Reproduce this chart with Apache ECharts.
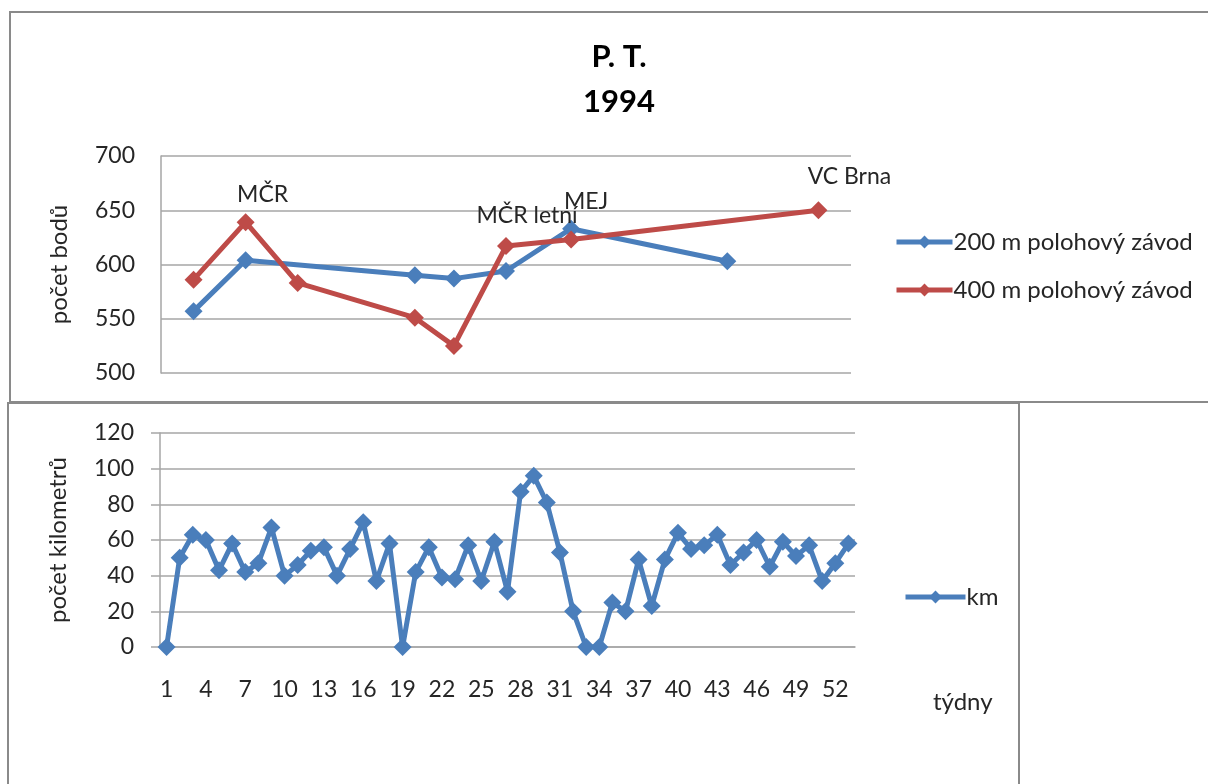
<!DOCTYPE html>
<html>
<head>
<meta charset="utf-8">
<script src="https://cdn.jsdelivr.net/npm/echarts@6/dist/echarts.min.js"></script>
<style>
html,body{margin:0;padding:0;background:#fff;}
#c{width:1208px;height:784px;}
</style>
</head>
<body>
<div id="c"></div>
<script>
// ---------- data ----------
const weeks = ['1','2','3','4','5','6','7','8','9','10','11','12','13','14','15','16','17','18','19','20',
  '21','22','23','24','25','26','27','28','29','30','31','32','33','34','35','36','37','38','39','40',
  '41','42','43','44','45','46','47','48','49','50','51','52','53'];
const km = [0,50,63,60,43,58,42,47,67,40,46,54,56,40,55,70,37,58,0,42,
  56,39,38,57,37,59,31,87,96,81,53,20,0,0,25,20,49,23,49,64,
  55,57,63,46,53,60,45,59,51,57,37,47,58];

const weeks200 = [3,7,20,23,27,32,44];
const points200 = [557,604,590,587,594,633,603];
const weeks400 = [3,7,11,20,23,27,32,51];
const points400 = [586,639,583,551,525,617,623,650];

// annotations: [series, week, text]
const notes = [
  ['400', 7, 'MČR'],
  ['400', 27, 'MČR letní'],
  ['200', 32, 'MEJ'],
  ['400', 51, 'VC Brna']
];

const name200 = '200 m polohový závod';
const name400 = '400 m polohový závod';
const nameKm = 'km';
const yTicksTop = [500,550,600,650,700];
const yTicksBottom = [0,20,40,60,80,100,120];
const xAxisName = 'týdny';
const titleText = 'P. T.\n1994';

// ---------- styling ----------
const FONT = 'Lato';
const BLUE = '#4a7ebb';
const RED = '#be4b48';
const GRID = '#a6a6a6';
const TXT = '#262626';
const noteOffsets = {'MČR':[17,-2], 'MČR letní':[21,-5], 'MEJ':[15,-2], 'VC Brna':[31,-8]};

function buildSeriesData(ws, vals, key){
  return ws.map((w,i)=>{
    const item = {value:[w, vals[i]]};
    const n = notes.find(a=>a[0]===key && a[1]===w);
    if(n){
      item.label = {show:true, position:'top', distance:5, formatter:n[2],
        offset: noteOffsets[n[2]], fontFamily:FONT, fontSize:23, color:TXT};
    }
    return item;
  });
}

const chart = echarts.init(document.getElementById('c'), null, {renderer:'canvas'});
const lineStyleW = 5;
const symSize = 18;

chart.setOption({
  animation:false,
  backgroundColor:'#ffffff',
  textStyle:{fontFamily:FONT},
  title:{
    text:titleText, left:614, top:29, textAlign:'center',
    textStyle:{fontFamily:FONT, fontWeight:'bold', fontSize:31, lineHeight:45, color:'#000'}
  },
  legend:[
    {data:[name200,name400], orient:'vertical', left:889, top:225,
     itemWidth:56, itemHeight:16, itemGap:24,
     lineStyle:{width:5},
     textStyle:{fontFamily:FONT, fontSize:24, color:TXT, padding:[0,0,0,-4]}},
    {data:[nameKm], orient:'vertical', left:898, top:580,
     itemWidth:60, itemHeight:16,
     lineStyle:{width:5},
     textStyle:{fontFamily:FONT, fontSize:24, color:TXT, padding:[0,0,0,-4]}}
  ],
  grid:[
    {left:161, top:156, width:690, height:217},
    {left:160, top:433, width:695, height:214}
  ],
  xAxis:[
    {gridIndex:0, type:'value', min:0.5, max:53.5,
     axisLine:{show:false}, axisTick:{show:false}, axisLabel:{show:false}, splitLine:{show:false}},
    {gridIndex:1, type:'category', data:weeks, boundaryGap:true,
     axisLine:{show:true, lineStyle:{color:GRID, width:1.5}},
     axisTick:{show:false},
     axisLabel:{interval:2, margin:31, fontFamily:FONT, fontSize:23, color:TXT}}
  ],
  yAxis:[
    {gridIndex:0, type:'value', min:yTicksTop[0], max:yTicksTop[yTicksTop.length-1], interval:50,
     name:'počet bodů', nameLocation:'middle', nameGap:90, nameRotate:90,
     nameTextStyle:{fontFamily:FONT, fontSize:24, color:TXT},
     axisLine:{show:true, lineStyle:{color:GRID, width:1.5}},
     axisTick:{show:false},
     axisLabel:{margin:26, fontFamily:FONT, fontSize:23, color:TXT},
     splitLine:{show:true, lineStyle:{color:GRID, width:1.5}}},
    {gridIndex:1, type:'value', min:yTicksBottom[0], max:yTicksBottom[yTicksBottom.length-1], interval:20,
     name:'počet kilometrů', nameLocation:'middle', nameGap:90, nameRotate:90,
     nameTextStyle:{fontFamily:FONT, fontSize:24, color:TXT},
     axisLine:{show:true, lineStyle:{color:GRID, width:1.5}},
     axisTick:{show:true, length:9, inside:false, lineStyle:{color:GRID, width:1.5}},
     axisLabel:{margin:26, fontFamily:FONT, fontSize:23, color:TXT},
     splitLine:{show:true, lineStyle:{color:GRID, width:1.5}}}
  ],
  graphic:[
    {type:'rect', z:-10, shape:{x:10, y:12, width:1230, height:390},
     style:{fill:'none', stroke:'#8a8a8a', lineWidth:2}},
    {type:'rect', z:-10, shape:{x:8, y:403, width:1011, height:420},
     style:{fill:'none', stroke:'#8a8a8a', lineWidth:2}},
    {type:'text', left:933, top:690,
     style:{text:xAxisName, font:'24px Lato', fill:TXT}}
  ],
  series:[
    {name:name200, type:'line', xAxisIndex:0, yAxisIndex:0,
     data:buildSeriesData(weeks200, points200, '200'),
     symbol:'diamond', symbolSize:symSize, showAllSymbol:true, color:BLUE,
     lineStyle:{width:lineStyleW, color:BLUE}, itemStyle:{color:BLUE}, z:3},
    {name:name400, type:'line', xAxisIndex:0, yAxisIndex:0,
     data:buildSeriesData(weeks400, points400, '400'),
     symbol:'diamond', symbolSize:symSize, showAllSymbol:true, color:RED,
     lineStyle:{width:lineStyleW, color:RED}, itemStyle:{color:RED}, z:4},
    {name:nameKm, type:'line', xAxisIndex:1, yAxisIndex:1,
     data:km,
     symbol:'diamond', symbolSize:symSize, showAllSymbol:true, color:BLUE,
     lineStyle:{width:lineStyleW, color:BLUE}, itemStyle:{color:BLUE}}
  ]
});
</script>
</body>
</html>
